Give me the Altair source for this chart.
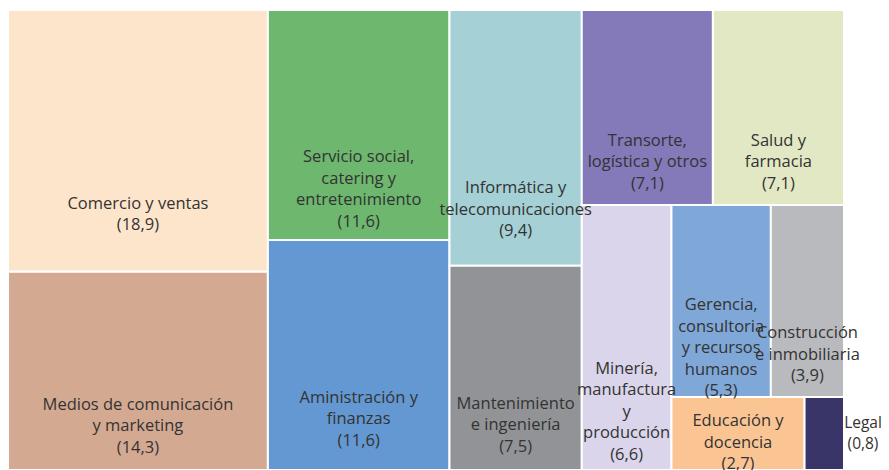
import altair as alt
import pandas as pd

# ---- data ----
categories = [
    "Comercio y ventas", "Medios de comunicación y marketing",
    "Servicio social, catering y entretenimiento", "Aministración y finanzas",
    "Informática y telecomunicaciones", "Mantenimiento e ingeniería",
    "Transorte, logística y otros", "Salud y farmacia",
    "Minería, manufactura y producción", "Gerencia, consultoria y recursos humanos",
    "Construcción e inmobiliaria", "Educación y docencia", "Legal",
]
name_lines = [
    ["Comercio y ventas"],
    ["Medios de comunicación", "y marketing"],
    ["Servicio social,", "catering y", "entretenimiento"],
    ["Aministración y", "finanzas"],
    ["Informática y", "telecomunicaciones"],
    ["Mantenimiento", "e ingeniería"],
    ["Transorte,", "logística y otros"],
    ["Salud y", "farmacia"],
    ["Minería,", "manufactura", "y", "producción"],
    ["Gerencia,", "consultoria", "y recursos", "humanos"],
    ["Construcción", "e inmobiliaria"],
    ["Educación y", "docencia"],
    ["Legal"],
]
values = [18.9, 14.3, 11.6, 11.6, 9.4, 7.5, 7.1, 7.1, 6.6, 5.3, 3.9, 2.7, 0.8]
colors = [
    "#FDE5CB", "#D4A992", "#6DB76F", "#6498D2", "#A5D0D5", "#929396",
    "#8479B9", "#E1E8C3", "#DAD5EA", "#7FA8D8", "#B9BABE", "#FBC593", "#3A3569",
]

# ---- squarified treemap layout (computed in a horizontally stretched space) ----
W, H = 836, 460
STRETCH = 1.5
LW, LH = W * STRETCH, H
FONT_IN, FONT_OUT = 16.5, 15.5


def worst(row, length, scale):
    thick = sum(row) * scale / length
    r = 0
    for v in row:
        l = v * scale / thick
        r = max(r, thick / l, l / thick)
    return r


def squarify(vals, x, y, w, h):
    rects = []
    scale = w * h / sum(vals)
    i = 0
    while i < len(vals):
        vertical = w >= h
        length = h if vertical else w
        row = [vals[i]]
        j = i + 1
        while j < len(vals) and worst(row + [vals[j]], length, scale) <= worst(row, length, scale):
            row.append(vals[j])
            j += 1
        thick = sum(row) * scale / length
        pos = y if vertical else x
        for v in row:
            l = v * scale / thick
            if vertical:
                rects.append((x, pos, x + thick, pos + l))
            else:
                rects.append((pos, y, pos + l, y + thick))
            pos += l
        if vertical:
            x += thick
            w -= thick
        else:
            y += thick
            h -= thick
        i = j
    return rects


rects = squarify(values, 0, 0, LW, LH)

LINE_H = 21.5
rows = []
for cat, lines, v, (x0, y0, x1, y1) in zip(categories, name_lines, values, rects):
    label = lines + ["(" + f"{v:.1f}".replace(".", ",") + ")"]
    block = len(label) * LINE_H
    pix_w = (x1 - x0) / STRETCH
    if pix_w < 50:
        # too narrow: label sits just to the right of the cell
        lx = x1 + 19 * STRETCH
        cy = (y0 + y1) / 2
        fs = FONT_OUT
    else:
        lx = (x0 + x1) / 2
        cy = y0 + 0.78 * (y1 - y0)
        cy = min(cy, y1 - block / 2 + 5)
        cy = max(cy, y0 + block / 2 + 2)
        fs = FONT_IN
    first = cy - (len(label) - 1) / 2 * LINE_H
    rows.append(dict(cat=cat, x0=x0, x1=x1, y0=y0, y1=y1, lx=lx, ly=first,
                     label=label, fs=fs))

df = pd.DataFrame(rows)

xs = alt.Scale(domain=[0, LW], nice=False, zero=False)
ys = alt.Scale(domain=[0, LH], nice=False, zero=False, reverse=True)

rect = alt.Chart(df).mark_rect(stroke="white", strokeWidth=2).encode(
    x=alt.X("x0:Q", scale=xs, axis=None),
    x2="x1:Q",
    y=alt.Y("y0:Q", scale=ys, axis=None),
    y2="y1:Q",
    color=alt.Color("cat:N", scale=alt.Scale(domain=categories, range=colors), legend=None),
)

text = alt.Chart(df).mark_text(
    font="Open Sans", lineHeight=LINE_H, color="#333333",
    align="center", baseline="middle",
).encode(
    x=alt.X("lx:Q", scale=xs, axis=None),
    y=alt.Y("ly:Q", scale=ys, axis=None),
    size=alt.Size("fs:Q", scale=None, legend=None),
    text="label",
)

chart = (rect + text).properties(
    width=W, height=H,
    autosize=alt.AutoSizeParams(type="none"),
    padding={"left": 0, "top": 2, "right": 37, "bottom": 0},
).configure_view(strokeWidth=0)

chart.save("out.html", embed_options={"renderer": "svg", "actions": False})
